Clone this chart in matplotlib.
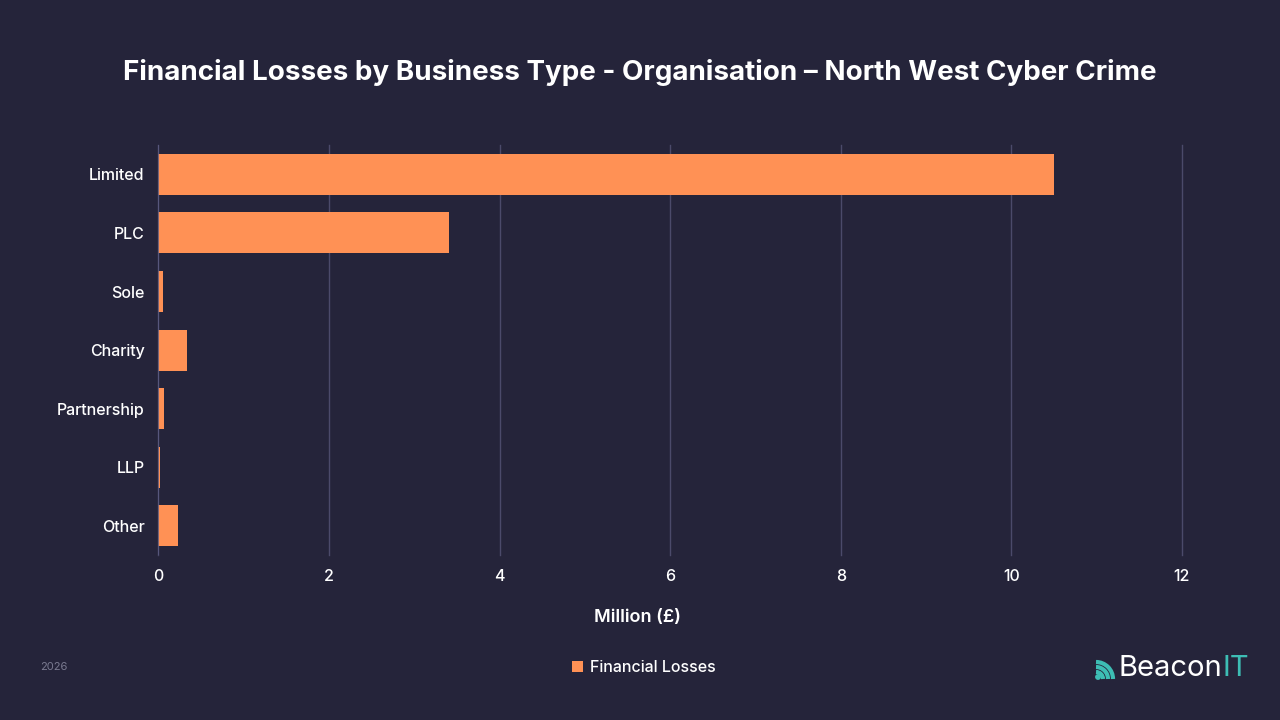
import matplotlib
matplotlib.use("Agg")
import matplotlib.pyplot as plt
from matplotlib.patches import Circle, Arc

categories = ["Limited", "PLC", "Sole", "Charity", "Partnership", "LLP", "Other"]
losses = [10.50, 3.41, 0.05, 0.33, 0.06, 0.02, 0.23]
xticks = [0, 2, 4, 6, 8, 10, 12]

BG = "#25243a"
BAR = "#ff9155"
GRID = "#4b4a6a"
TEAL = "#3dbdb4"

plt.rcParams['font.family'] = ['Inter', 'DejaVu Sans']

fig = plt.figure(figsize=(12.8, 7.2), dpi=100, facecolor=BG)
ax = fig.add_axes([0.1238, 0.229, 0.7996, 0.5695], facecolor=BG)

y = list(range(len(categories)))
ax.barh(y, losses, height=0.7, color=BAR, label="Financial Losses", zorder=3)
ax.set_ylim(len(categories) - 0.5, -0.5)
ax.set_xlim(0, 12)
ax.set_xticks(xticks)
ax.set_xticklabels([str(t) for t in xticks])
ax.set_yticks(y)
ax.set_yticklabels(categories)
ax.grid(axis='x', color=GRID, linewidth=1, zorder=0)
ax.grid(axis='y', visible=False)
for gl in ax.get_xgridlines():
    gl.set_clip_on(False)
for s in ax.spines.values():
    s.set_visible(False)
ax.axvline(0, color="#5a5a80", linewidth=1.2, zorder=4)
ax.tick_params(axis='both', length=0, colors='white', labelsize=11.5)
ax.tick_params(axis='x', pad=10)
ax.tick_params(axis='y', pad=10)
for lbl in ax.get_yticklabels() + ax.get_xticklabels():
    lbl.set_fontweight('medium')

fig.text(0.498, 1 - 618 / 720, "Million (£)", color='white', fontsize=13, fontweight='semibold',
         ha='center', va='center')

fig.text(0.5, 0.9, "Financial Losses by Business Type - Organisation \u2013 North West Cyber Crime",
         ha='center', va='center', color='white', fontsize=20, fontweight='bold')

leg = fig.legend(loc='center', bbox_to_anchor=(0.503, 0.073), frameon=False,
                 fontsize=11.5, handlelength=0.7, handleheight=0.7, handletextpad=0.4)
for t in leg.get_texts():
    t.set_color('white')
    t.set_fontweight('medium')

fig.text(0.031, 0.073, "2026", color='#7a7a90', fontsize=8, ha='left', va='center')

# Logo
beacon = fig.text(0.8735, 0.071, "Beacon", color='white', fontsize=21, ha='left', va='center')
fig.add_artist(matplotlib.text.Annotation("IT", xy=(1.0, 0.5), xycoords=beacon,
                                          xytext=(0.5, 0), textcoords='offset points',
                                          color=TEAL, fontsize=21, ha='left', va='center',
                                          annotation_clip=False))

px = 1 / 100.0
fig.patches.append(Circle((1098 * px, (720 - 677) * px), 2.2 * px,
                          transform=fig.dpi_scale_trans, color=TEAL))
for rad in [7, 12, 17]:
    arc = Arc((1096 * px, (720 - 679) * px), 2 * rad * px, 2 * rad * px, theta1=0, theta2=90,
              transform=fig.dpi_scale_trans, color=TEAL, linewidth=3)
    fig.patches.append(arc)

fig.savefig("out.png", dpi=100, facecolor=BG)
